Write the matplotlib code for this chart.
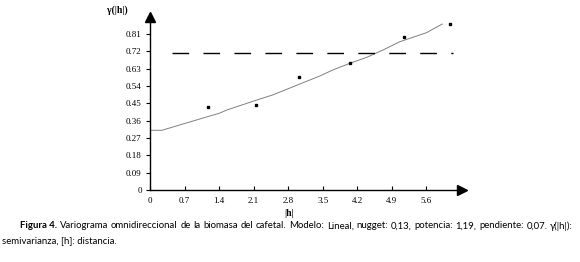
import matplotlib
matplotlib.use("Agg")
import matplotlib.pyplot as plt

# ── data ──────────────────────────────────────────────────────────────────────
lag = [1.17, 2.15, 3.02, 4.06, 5.14, 6.07]
semivar = [0.43, 0.44, 0.588, 0.661, 0.793, 0.862]

model_x = [0.0, 0.24, 0.67, 1.42, 1.55, 2.1, 2.5, 3.02, 3.44, 3.7, 4.05,
           4.39, 4.72, 5.06, 5.6, 5.92]
model_y = [0.31, 0.31, 0.343, 0.40, 0.415, 0.462, 0.495, 0.549, 0.592, 0.623,
           0.658, 0.689, 0.727, 0.77, 0.817, 0.862]

sill = 0.71
sill_span = (0.44, 6.13)

xticks = [0, 0.7, 1.4, 2.1, 2.8, 3.5, 4.2, 4.9, 5.6]
yticks = [0, 0.09, 0.18, 0.27, 0.36, 0.45, 0.54, 0.63, 0.72, 0.81]

caption1 = [("Figura 4.", "bold")] + [(w, "normal") for w in
            "Variograma omnidireccional de la biomasa del cafetal. Modelo: "
            "Lineal, nugget: 0,13, potencia: 1,19, pendiente: 0,07. γ(|h|):".split()]
caption2 = "semivarianza, [h]: distancia."

W, H = 580, 262
fig = plt.figure(figsize=(W / 100, H / 100), dpi=100)
serif = ["Liberation Serif", "DejaVu Serif"]

# axes placed in pixel units: x=0 at px 150, y=0 at px 190
ax = fig.add_axes([150 / W, (H - 190) / H, 312 / W, 173.3 / H])
ax.set_xlim(0, 6.32)
ax.set_ylim(0, 0.9)
for s in ("top", "right"):
    ax.spines[s].set_visible(False)
for s in ("left", "bottom"):
    ax.spines[s].set_linewidth(1.0)

ax.plot(model_x, model_y, color="#808080", lw=0.7)
ax.plot(lag, semivar, "s", color="black", ms=1.8)
ax.plot(sill_span, [sill, sill], color="black", lw=1.0, dashes=(12, 10.3))

# arrow heads
ax.plot(1, 0, ">", color="black", ms=7, transform=ax.transAxes, clip_on=False)
ax.plot(0, 1, "^", color="black", ms=7, transform=ax.transAxes, clip_on=False)

ax.set_xticks(xticks)
ax.set_xticklabels([f"{v:g}" for v in xticks], family=serif, fontsize=6.5)
ax.set_yticks(yticks)
ax.set_yticklabels(["0"] + [f"{v:.2f}" for v in yticks[1:]], family=serif,
                   fontsize=6.5)
ax.tick_params(axis="x", direction="in", length=3, width=0.8, pad=5)
ax.tick_params(axis="y", direction="out", length=3, width=0.8, pad=3)

fig.text(107 / W, 1 - 10 / H, "γ(|h|)", family=serif, fontsize=7,
         fontweight="bold", va="center", ha="left")
fig.text(289 / W, 1 - 213 / H, "|h|", family=serif, fontsize=7,
         fontweight="bold", va="center", ha="center")

# justified caption, first line placed word by word
cap_font = ["Lato", "DejaVu Sans"]
fs = 6.95
fig.canvas.draw()
renderer = fig.canvas.get_renderer()
x0, x1 = 20, 573
y1 = 1 - 226 / H
texts = []
for word, weight in caption1:
    t = fig.text(0, y1, word, family=cap_font, fontsize=fs, fontweight=weight,
                 va="center", ha="left")
    texts.append(t)
widths = [t.get_window_extent(renderer).width for t in texts]
gap = (x1 - x0 - sum(widths)) / (len(texts) - 1)
x = x0
for t, w in zip(texts, widths):
    t.set_x(x / W)
    x += w + gap

fig.text(2 / W, 1 - 241 / H, caption2, family=cap_font, fontsize=fs,
         va="center", ha="left")

fig.savefig("out.png", dpi=100)
